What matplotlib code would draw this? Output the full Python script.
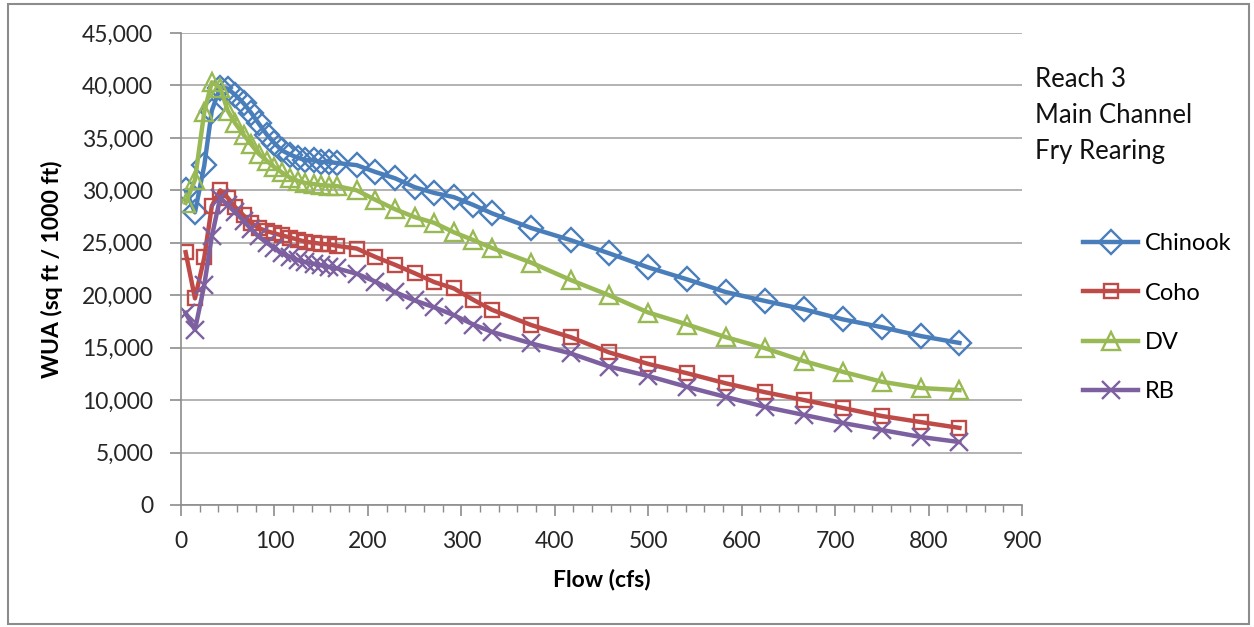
import matplotlib
matplotlib.use("Agg")
import matplotlib.pyplot as plt
from matplotlib.patches import Rectangle
from matplotlib.ticker import FuncFormatter, MultipleLocator

# flow (cfs) and weighted usable area (sq ft / 1000 ft)
flow = [5, 15, 25, 33, 42, 50, 58, 67, 75, 83, 92, 100, 108, 117, 125, 133,
        142, 150, 158, 167, 188, 208, 229, 250, 271, 292, 313, 333, 375, 417,
        458, 500, 542, 583, 625, 667, 708, 750, 792, 833]

chinook = [30000, 27900, 32400, 37600, 39800, 39700, 39100, 38300, 37400,
           36400, 35300, 34500, 33800, 33400, 33100, 32900, 32850, 32700,
           32700, 32600, 32400, 31750, 31150, 30300, 29750, 29350, 28600,
           27800, 26400, 25250, 24000, 22650, 21500, 20300, 19450, 18650,
           17700, 16950, 16100, 15450]
coho = [24100, 19700, 23600, 28500, 30000, 29300, 28400, 27600, 26900, 26400,
        26100, 25900, 25700, 25500, 25300, 25100, 25000, 24900, 24850, 24700,
        24450, 23650, 22900, 22100, 21250, 20650, 19550, 18600, 17150, 16000,
        14550, 13450, 12550, 11600, 10750, 10000, 9250, 8480, 7900, 7350]
dv = [28800, 31000, 37500, 40300, 39800, 37600, 36400, 35300, 34400, 33500,
      32800, 32200, 31700, 31200, 30900, 30700, 30600, 30500, 30450, 30400,
      30000, 29100, 28200, 27450, 26900, 26000, 25250, 24500, 23100, 21450,
      20000, 18350, 17200, 16000, 14950, 13700, 12700, 11750, 11150, 10950]
rb = [18300, 16700, 21000, 25600, 29300, 28600, 27900, 27100, 26300, 25600,
      25000, 24500, 24000, 23650, 23350, 23150, 23000, 22850, 22700, 22550,
      22050, 21300, 20300, 19500, 18850, 18100, 17200, 16500, 15400, 14450,
      13200, 12300, 11250, 10300, 9350, 8580, 7820, 7150, 6480, 6000]

series = [
    ("Chinook", chinook, "#4a7ebb", "D", 12.5),
    ("Coho", coho, "#be4b48", "s", 10),
    ("DV", dv, "#98b954", "^", 13),
    ("RB", rb, "#7d60a0", "x", 13),
]

plt.rcParams["font.family"] = ["Lato", "DejaVu Sans"]

fig = plt.figure(figsize=(12.54, 6.27), dpi=100)
ax = fig.add_axes([0.1443, 0.1946, 0.6707, 0.7528])

for name, vals, color, marker, ms in series:
    ax.plot(flow, vals, color=color, lw=3.2, marker=marker, ms=ms,
            mfc="none", mec=color, mew=1.7, label=name)

ax.set_xlim(0, 900)
ax.set_ylim(0, 45000)
ax.xaxis.set_major_locator(MultipleLocator(100))
ax.xaxis.set_minor_locator(MultipleLocator(20))
ax.yaxis.set_major_locator(MultipleLocator(5000))
ax.yaxis.set_major_formatter(FuncFormatter(lambda v, p: f"{int(v):,}"))

grid_c = "#a6a6a6"
ax.grid(True, axis="y", color=grid_c, lw=1.2)
ax.set_axisbelow(True)
for s in ("top", "right"):
    ax.spines[s].set_visible(False)
for s in ("left", "bottom"):
    ax.spines[s].set_color("#8c8c8c")
    ax.spines[s].set_linewidth(1.2)
ax.tick_params(axis="both", which="both", direction="out", color="#8c8c8c",
               labelsize=16.5, labelcolor="#262626")
ax.tick_params(axis="both", which="major", length=8, width=1.2)
ax.tick_params(axis="y", which="major", pad=12)
ax.tick_params(axis="x", which="major", pad=11)
ax.tick_params(axis="x", which="minor", length=5, width=1.0)

ax.set_xlabel("Flow (cfs)", fontsize=16.5, fontweight="bold", labelpad=12)
ax.set_ylabel("WUA (sq ft / 1000 ft)", fontsize=16.5, fontweight="bold",
              labelpad=14)

fig.text(0.8254, 0.893, "Reach 3\nMain Channel\nFry Rearing", fontsize=18.5,
         va="top", ha="left", linespacing=1.55, color="#111111")

ax.legend(loc="upper left", bbox_to_anchor=(0.847, 0.662),
          bbox_transform=fig.transFigure, frameon=False, fontsize=17,
          handlelength=2.3, handletextpad=0.3, labelspacing=1.2,
          markerscale=1.0)

fig.patches.append(Rectangle((0.006, 0.005), 0.99, 0.988,
                             transform=fig.transFigure, fill=False,
                             edgecolor="#8c8c8c", lw=1.5))

fig.savefig("out.png", dpi=100)
